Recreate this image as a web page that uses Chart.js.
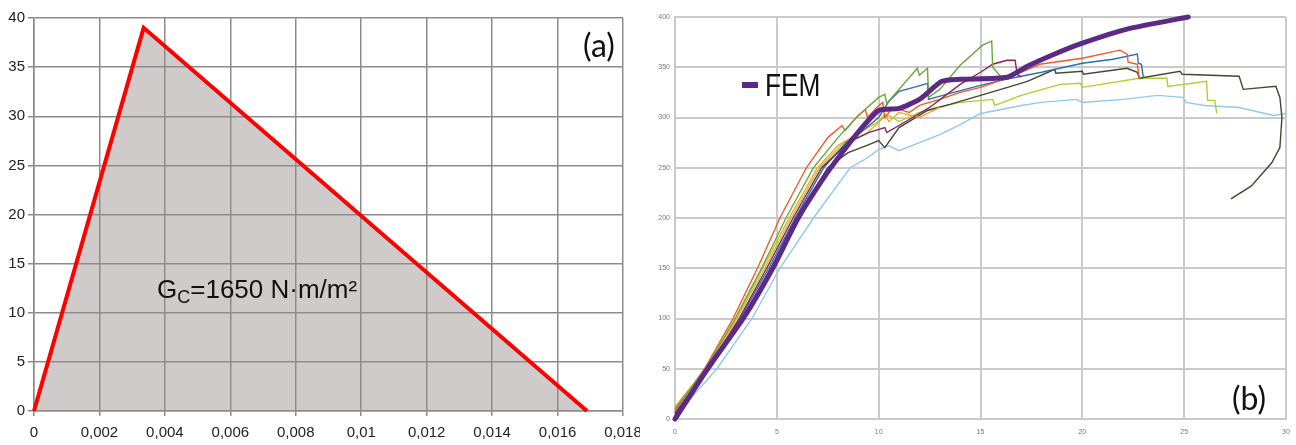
<!DOCTYPE html>
<html>
<head>
<meta charset="utf-8">
<script src="https://cdn.jsdelivr.net/npm/chart.js@4.4.1/dist/chart.umd.min.js"></script>
<style>
    body { margin: 0; background: #fff; width: 1296px; height: 445px; overflow: hidden; position: relative; font-family: "Liberation Sans", Arial, sans-serif; }
    .box { position: absolute; top: 0; height: 445px; }
    #boxA { left: 0; width: 640px; }
    #boxB { left: 640px; width: 656px; }
    .note { position: absolute; white-space: nowrap; color: #111; }
    #gcText { left: 157px; top: 276px; font-size: 26px; line-height: 26px; }
    #gcText span { font-size: 18px; position: relative; top: 5px; }
    .tag { font-family: Lato, "Open Sans", sans-serif; font-size: 32px; line-height: 32px; }
    #tagA { left: 583px; top: 29px; }
    #tagB { left: 1232px; top: 382px; }
    #femSwatch { position: absolute; left: 742px; top: 82px; width: 16px; height: 6px; background: #5b2a86; }
    #femText { left: 765px; top: 69px; font-size: 32px; line-height: 32px; transform: scaleX(0.82); transform-origin: left top; }
</style>
</head>
<body>
<div class="box" id="boxA"><canvas id="chartA" width="640" height="445"></canvas></div>
<div class="box" id="boxB"><canvas id="chartB" width="656" height="445"></canvas></div>
<div class="note" id="gcText">G<span>C</span>=1650 N·m/m²</div>
<div class="note tag" id="tagA">(a)</div>
<div class="note tag" id="tagB">(b)</div>
<div id="femSwatch"></div>
<div class="note" id="femText">FEM</div>

<script>
    // (a) cohesive law: separation vs traction
    const lawPts = [[0, 0], [0.00335, 39], [0.0169, 0]];

    // (b) load-displacement curves
    const femPts = [[0, 0], [1.6, 50], [3.35, 100], [4.8, 150], [6.05, 200], [7.3, 240], [8.2, 265], [9.1, 288], [10, 307], [11, 309], [12, 318], [13.1, 336], [14, 338], [16.3, 340], [17.3, 351], [18.5, 362], [20, 374], [22.2, 388], [25.2, 400]];
    const redPts = [[0, 8], [1.45, 50], [2.85, 100], [4.05, 150], [5.15, 200], [6.45, 250], [7.5, 280], [8.2, 292], [8.35, 287], [8.9, 300], [9.35, 308], [9.45, 300], [9.9, 310], [10.2, 315], [10.3, 300], [10.7, 310], [11.5, 305], [12, 312], [13, 318], [14, 325], [15, 330], [16, 337], [17, 345], [17.9, 353], [20, 359], [21.85, 367], [22.2, 363], [22.25, 355], [22.7, 353], [22.8, 338]];
    const greenPts = [[0, 10], [1.5, 50], [2.95, 100], [4.25, 150], [5.45, 200], [6.8, 250], [8, 280], [9, 302], [10, 320], [10.3, 323], [10.4, 314], [11.3, 335], [11.9, 349], [12.0, 342], [12.4, 349], [12.45, 320], [13, 328], [14, 352], [15.1, 372], [15.55, 376], [15.6, 350], [15.9, 343], [16, 340]];
    const bluePts = [[0, 6], [1.6, 50], [3.2, 100], [4.6, 150], [5.9, 200], [7.3, 250], [8.4, 275], [9.1, 285], [10, 300], [10.5, 316], [11, 326], [11.9, 331], [12.4, 334], [12.45, 318], [13.5, 324], [15, 332], [16, 337], [17, 341], [18, 345], [20, 354], [21.5, 358], [22.7, 363], [22.75, 354], [22.9, 353], [23, 339]];
    const maroonPts = [[0, 5], [1.6, 50], [3.15, 100], [4.5, 150], [5.8, 200], [7.2, 250], [8.5, 275], [9.5, 285], [10.3, 290], [10.4, 285], [11.5, 298], [12.5, 310], [14, 333], [15, 345], [15.6, 353], [16.3, 357], [16.7, 357], [16.8, 343], [17, 340]];
    const olivePts = [[0, 3], [1.7, 50], [3.3, 100], [4.7, 150], [6.0, 200], [7.5, 250], [8.5, 265], [9.4, 272], [10, 277], [10.3, 270], [11, 290], [12.4, 307], [13.5, 313], [15, 322], [16, 328], [17.3, 336], [18.65, 348], [18.7, 344], [20, 346], [20.05, 343], [22.2, 349], [22.7, 345], [22.8, 339], [24.8, 346], [24.9, 343], [27.7, 341], [27.9, 328], [29.5, 331], [29.7, 320], [29.8, 300], [29.7, 270], [29.3, 255], [28.3, 232], [27.3, 219]];
    const limePts = [[0, 10], [1.55, 50], [3.05, 100], [4.4, 150], [5.7, 200], [7.1, 250], [8.3, 275], [9.4, 284], [10.2, 299], [10.5, 302], [11, 296], [12, 305], [12.85, 310], [14, 315], [15.6, 318], [15.7, 312], [17, 322], [18.9, 333], [19.9, 334], [20, 330], [22.8, 339], [24.15, 339], [24.2, 331], [26.1, 336], [26.15, 317], [26.5, 317], [26.6, 304]];
    const skyPts = [[0, 3], [2.06, 50], [3.78, 100], [5.15, 150], [6.8, 200], [8.6, 250], [9.3, 258], [10, 268], [10.5, 272], [11, 267], [12, 275], [13, 283], [14, 293], [15, 304], [16, 308], [17, 312], [18, 315], [19.7, 318], [20, 315], [22, 318], [23.7, 322], [24.95, 320], [25.1, 315], [26, 312], [27.7, 310], [29.4, 302], [30, 304]];
    const amberPts = [[0, 12], [1.5, 50], [3.0, 100], [4.3, 150], [5.6, 200], [7.0, 250], [8.0, 272], [9.3, 288], [10, 296], [10.3, 303], [10.5, 296], [11, 305], [12, 300], [12.5, 305], [13, 310]];

    const toXY = pts => pts.map(p => ({ x: p[0], y: p[1] }));
    const commaNum = v => v === 0 ? '0' : String(parseFloat(v.toFixed(3))).replace('.', ',');
    // keep the plot edges where the picture has them, labels may hang over
    const fixX = h => s => { s.height = h; s.paddingLeft = 0; s.paddingRight = 0; };
    const fixY = w => s => { s.width = w; s.paddingTop = 0; s.paddingBottom = 0; };

    new Chart(document.getElementById('chartA'), {
        type: 'scatter',
        data: { datasets: [{ data: toXY(lawPts), showLine: true, fill: 'origin', borderColor: '#ff0000', backgroundColor: 'rgba(150,140,140,0.45)', borderWidth: 4, pointRadius: 0, borderJoinStyle: 'miter', clip: 4 }] },
        options: {
            responsive: false, animation: false,
            layout: { padding: { top: 18, right: 17, left: 0, bottom: 0 } },
            plugins: { legend: { display: false }, tooltip: { enabled: false } },
            scales: {
                x: {
                    type: 'linear', min: 0, max: 0.018,
                    afterFit: fixX(34),
                    grid: { color: '#8e8a8a', lineWidth: 1.5, tickLength: 5 },
                    border: { color: '#8e8a8a', width: 1.5 },
                    ticks: { stepSize: 0.002, padding: 8, color: '#222', font: { family: 'Liberation Sans', size: 15 }, callback: v => commaNum(v) }
                },
                y: {
                    min: 0, max: 40,
                    afterFit: fixY(34),
                    grid: { color: '#8e8a8a', lineWidth: 1.5, tickLength: 6 },
                    border: { color: '#8e8a8a', width: 1.5 },
                    ticks: { stepSize: 5, padding: 3, color: '#222', font: { family: 'Liberation Sans', size: 15 } }
                }
            }
        }
    });

    const expLine = (pts, color) => ({ data: toXY(pts), showLine: true, borderColor: color, borderWidth: 1.4, pointRadius: 0, tension: 0, clip: 3 });

    new Chart(document.getElementById('chartB'), {
        type: 'scatter',
        data: {
            datasets: [
                { data: toXY(femPts), showLine: true, borderColor: '#5b2a86', borderWidth: 5, pointRadius: 0, tension: 0.2, clip: 5, borderCapStyle: 'round' },
                expLine(greenPts, '#6aa83c'),
                expLine(maroonPts, '#8e2151'),
                expLine(redPts, '#f05a28'),
                expLine(bluePts, '#2a6db0'),
                expLine(amberPts, '#f2a530'),
                expLine(olivePts, '#3d4a2e'),
                expLine(limePts, '#b3cc2e'),
                expLine(skyPts, '#8fc9f0')
            ]
        },
        options: {
            responsive: false, animation: false,
            layout: { padding: { top: 17, right: 10, left: 0, bottom: 0 } },
            plugins: { legend: { display: false }, tooltip: { enabled: false } },
            scales: {
                x: {
                    type: 'linear', min: 0, max: 30,
                    afterFit: fixX(26),
                    grid: { color: '#cacaca', lineWidth: 2, drawTicks: false },
                    border: { color: '#cacaca', width: 2 },
                    ticks: { stepSize: 5, padding: 9, color: '#777', font: { family: 'Liberation Sans', size: 7 } }
                },
                y: {
                    min: 0, max: 400,
                    afterFit: fixY(35),
                    grid: { color: '#cacaca', lineWidth: 2, drawTicks: false },
                    border: { color: '#cacaca', width: 2 },
                    ticks: { stepSize: 50, padding: 5, color: '#777', font: { family: 'Liberation Sans', size: 7 } }
                }
            }
        }
    });
</script>
</body>
</html>
